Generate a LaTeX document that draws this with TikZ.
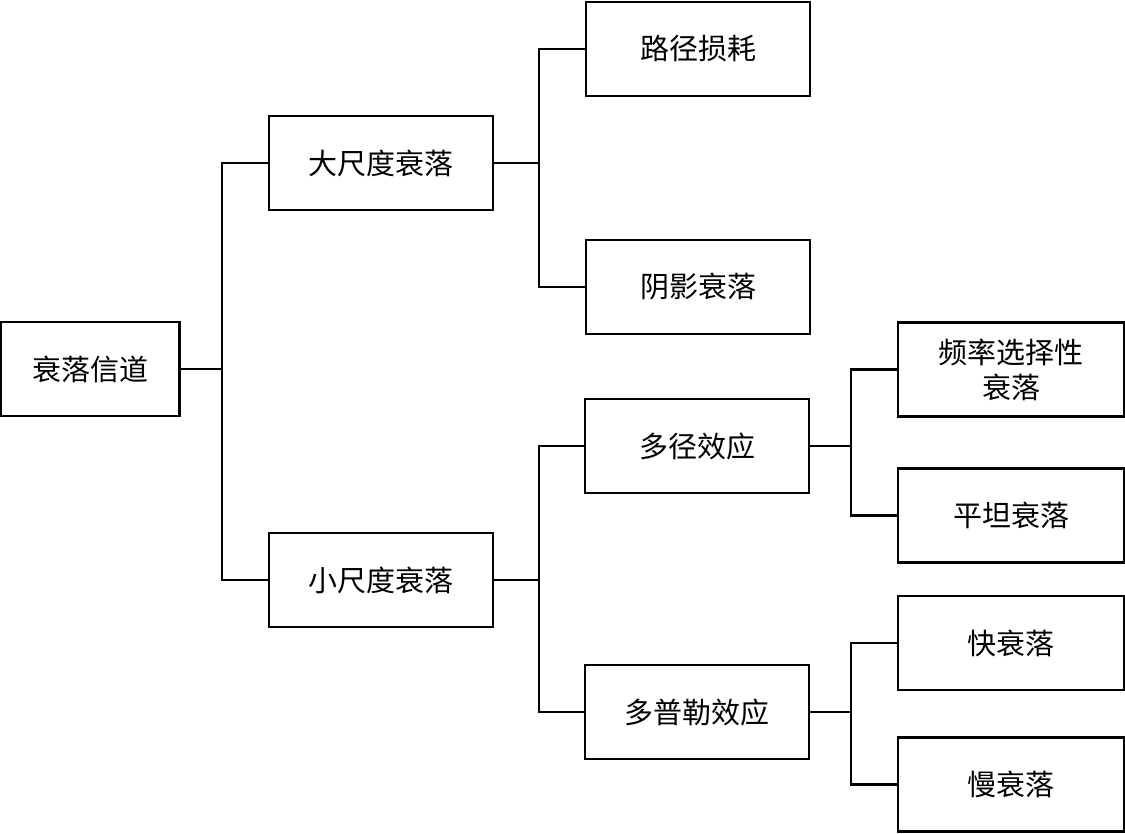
\documentclass[tikz,border=0pt]{standalone}
\usepackage{fontspec}
\newfontfamily\cjk{Noto Sans CJK SC}
\begin{document}
\begin{tikzpicture}[x=1pt,y=-1pt,
  box/.style={draw=black,line width=2.2pt,fill=white,minimum width=224pt,minimum height=94pt,inner sep=0pt,align=center,font=\cjk\fontsize{29}{35}\selectfont},
  rootbox/.style={box,minimum width=179pt},
  conn/.style={draw=black,line width=2.2pt}]
\useasboundingbox (0,0) rectangle (1125,834);
\node[rootbox] (root) at (90,369) {衰落信道};
\node[box] (large) at (381,163) {大尺度衰落};
\node[box] (small) at (381,580) {小尺度衰落};
\node[box] (path) at (698,49) {路径损耗};
\node[box] (shadow) at (698,287) {阴影衰落};
\node[box] (multi) at (697,446) {多径效应};
\node[box] (doppler) at (697,712) {多普勒效应};
\node[box,minimum width=226pt] (freq) at (1011,369.5) {频率选择性\\衰落};
\node[box,minimum width=226pt] (flat) at (1011,515.5) {平坦衰落};
\node[box,minimum width=226pt] (fast) at (1011,643) {快衰落};
\node[box,minimum width=226pt] (slow) at (1011,784.5) {慢衰落};
\coordinate (j1) at (222,369);
\coordinate (j2) at (539,163);
\coordinate (j3) at (539,580);
\coordinate (j4) at (851,446);
\coordinate (j5) at (851,712);
\draw[conn] (root.east) -- (j1);
\draw[conn] (j1) |- (large.west);
\draw[conn] (j1) |- (small.west);
\draw[conn] (large.east) -- (j2);
\draw[conn] (j2) |- (path.west);
\draw[conn] (j2) |- (shadow.west);
\draw[conn] (small.east) -- (j3);
\draw[conn] (j3) |- (multi.west);
\draw[conn] (j3) |- (doppler.west);
\draw[conn] (multi.east) -- (j4);
\draw[conn] (j4) |- (freq.west);
\draw[conn] (j4) |- (flat.west);
\draw[conn] (doppler.east) -- (j5);
\draw[conn] (j5) |- (fast.west);
\draw[conn] (j5) |- (slow.west);
\end{tikzpicture}
\end{document}
